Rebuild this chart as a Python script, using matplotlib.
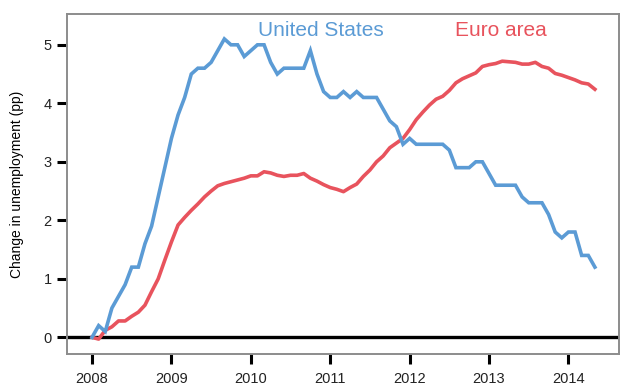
import numpy as np
import matplotlib
matplotlib.use("Agg")
import matplotlib.pyplot as plt

plt.rcParams["font.family"] = ["Liberation Sans", "DejaVu Sans"]

# monthly, Jan 2008 .. May 2014, change since Jan 2008 (pp)
start_year = 2008
us_change = [
    0.0, 0.2, 0.1, 0.5, 0.7, 0.9, 1.2, 1.2, 1.6, 1.9, 2.4, 2.9,
    3.4, 3.8, 4.1, 4.5, 4.6, 4.6, 4.7, 4.9, 5.1, 5.0, 5.0, 4.8,
    4.9, 5.0, 5.0, 4.7, 4.5, 4.6, 4.6, 4.6, 4.6, 4.9, 4.5, 4.2,
    4.1, 4.1, 4.2, 4.1, 4.2, 4.1, 4.1, 4.1, 3.9, 3.7, 3.6, 3.3,
    3.4, 3.3, 3.3, 3.3, 3.3, 3.3, 3.2, 2.9, 2.9, 2.9, 3.0, 3.0,
    2.8, 2.6, 2.6, 2.6, 2.6, 2.4, 2.3, 2.3, 2.3, 2.1, 1.8, 1.7,
    1.8, 1.8, 1.4, 1.4, 1.2,
]
ea_change = [
    0.0, -0.03, 0.12, 0.18, 0.28, 0.28, 0.36, 0.43, 0.55, 0.78, 1.0, 1.32,
    1.63, 1.92, 2.05, 2.17, 2.28, 2.4, 2.5, 2.59, 2.63, 2.66, 2.69, 2.72,
    2.76, 2.76, 2.83, 2.81, 2.77, 2.75, 2.77, 2.77, 2.8, 2.72, 2.67, 2.61,
    2.56, 2.53, 2.49, 2.56, 2.62, 2.75, 2.86, 3.0, 3.1, 3.24, 3.32, 3.4,
    3.55, 3.72, 3.85, 3.97, 4.07, 4.12, 4.22, 4.35, 4.42, 4.47, 4.52, 4.63,
    4.66, 4.68, 4.72, 4.71, 4.7, 4.67, 4.67, 4.7, 4.63, 4.6, 4.51, 4.48,
    4.44, 4.4, 4.35, 4.33, 4.24,
]
year_ticks = [2008, 2009, 2010, 2011, 2012, 2013, 2014]
y_ticks = [0, 1, 2, 3, 4, 5]

US_BLUE = "#5b9bd5"
EA_RED = "#e8535d"

t = start_year + np.arange(len(us_change)) / 12

fig = plt.figure(figsize=(6.24, 3.88), dpi=100)
ax = fig.add_axes([0.1074, 0.0876, 0.8846, 0.8764])

ax.axhline(0, color="black", lw=2.4, zorder=1)
ax.plot(t, us_change, color=US_BLUE, lw=2.6, solid_joinstyle="miter", zorder=3)
ax.plot(t, ea_change, color=EA_RED, lw=2.6, zorder=2)

ax.text(2010.88, 5.24, "United States", color=US_BLUE, fontsize=15,
        ha="center", va="center")
ax.text(2013.15, 5.24, "Euro area", color=EA_RED, fontsize=15,
        ha="center", va="center")

ax.set_xlim(2007.685, 2014.637)
ax.set_ylim(-0.285, 5.527)
ax.set_xticks(year_ticks)
ax.set_xticklabels([str(y) for y in year_ticks])
ax.set_yticks(y_ticks)
ax.tick_params(direction="out", length=7, width=2.2, color="black",
               labelsize=10.5, labelcolor="#222222")
ax.tick_params(axis="x", pad=6)
ax.tick_params(axis="y", pad=4)
ax.set_ylabel("Change in unemployment (pp)", fontsize=10, labelpad=14)

for s in ax.spines.values():
    s.set_color("#8c8c8c")
    s.set_linewidth(1.4)

fig.savefig("out.png", dpi=100)
